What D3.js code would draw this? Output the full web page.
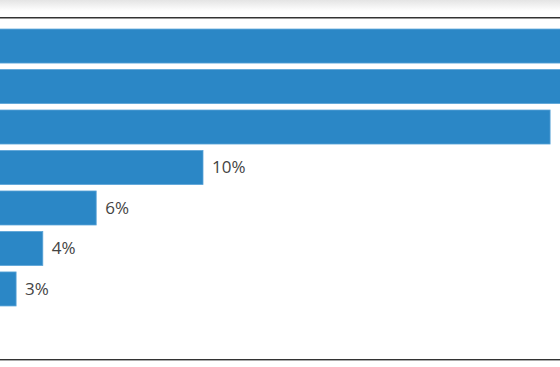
<!DOCTYPE html>
<html>
<head>
<meta charset="utf-8">
<script src="https://cdn.jsdelivr.net/npm/d3@7"></script>
<style>
html,body{margin:0;padding:0;background:#fff;overflow:hidden;}
svg{display:block;}
</style>
</head>
<body>
<svg id="chart" width="560" height="367"></svg>
<script>
const categories = ["A", "B", "C", "D", "E", "F", "G"];
const values = [30, 27, 23, 10, 6, 4, 3];
const labels = ["30%", "27%", "23%", "10%", "6%", "4%", "3%"];

const W = 560, H = 367;
const svg = d3.select("#chart");

// top shadow gradient
const defs = svg.append("defs");
const grad = defs.append("linearGradient").attr("id", "topShade")
  .attr("x1", 0).attr("y1", 0).attr("x2", 0).attr("y2", 1);
grad.append("stop").attr("offset", "0%").attr("stop-color", "#e4e4e4");
grad.append("stop").attr("offset", "100%").attr("stop-color", "#ffffff");
svg.append("rect").attr("x", 0).attr("y", 0).attr("width", W).attr("height", 11)
  .attr("fill", "url(#topShade)");

const x = d3.scaleLinear().domain([0, 10]).range([-64, 203]);
const y = d3.scaleBand().domain(categories).range([25.8, 309.2])
  .paddingInner(0.16).paddingOuter(0.08);

// frame lines
svg.append("line").attr("x1", 0).attr("x2", W).attr("y1", 17.5).attr("y2", 17.5)
  .attr("stroke", "#333").attr("stroke-width", 1);
svg.append("line").attr("x1", 0).attr("x2", W).attr("y1", 18.5).attr("y2", 18.5)
  .attr("stroke", "#999").attr("stroke-width", 1);
svg.append("line").attr("x1", 0).attr("x2", W).attr("y1", 359.5).attr("y2", 359.5)
  .attr("stroke", "#333").attr("stroke-width", 1);
svg.append("line").attr("x1", 0).attr("x2", W).attr("y1", 360.5).attr("y2", 360.5)
  .attr("stroke", "#aaa").attr("stroke-width", 1);

const data = categories.map((c, i) => ({c, v: values[i], l: labels[i]}));

svg.append("g").selectAll("rect").data(data).join("rect")
  .attr("x", x(0))
  .attr("y", d => y(d.c))
  .attr("width", d => x(d.v) - x(0))
  .attr("height", y.bandwidth())
  .attr("fill", "#2b87c6")
  .attr("stroke", "#5aa4d8")
  .attr("stroke-width", 0.8);

// value labels (those beyond the visible area are not shown, as in the reference)
svg.append("g").selectAll("text").data(data.filter(d => x(d.v) + 9 + 30 < W)).join("text")
  .attr("x", d => x(d.v) + 9)
  .attr("y", d => y(d.c) + y.bandwidth() / 2)
  .attr("dy", "0.35em")
  .attr("font-family", "'Open Sans', sans-serif")
  .attr("font-size", 17)
  .attr("fill", "#444")
  .text(d => d.l);
</script>
</body>
</html>
